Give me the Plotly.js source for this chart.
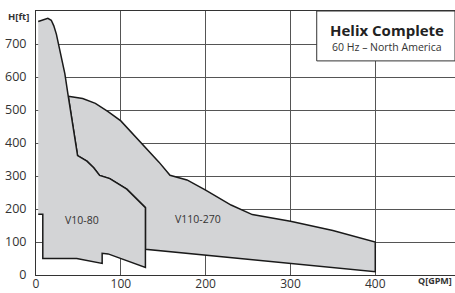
<!DOCTYPE html>
<html><head><meta charset="utf-8">
<script src="https://cdn.plot.ly/plotly-3.0.1.min.js"></script>
<style>html,body{margin:0;padding:0;background:#fff}#chart{width:455px;height:293px}</style>
</head><body><div id="chart"></div>
<script>
// V10-80 envelope (flow Q in GPM, head H in ft)
const v10Q = [2.6, 14, 18, 21, 24, 27, 31, 34, 38, 44, 49, 60, 68, 75, 87, 107, 129, 129, 85, 78, 78, 48, 8, 8, 2.6];
const v10H = [768, 778, 772, 755, 730, 695, 648, 610, 542, 450, 362, 345, 325, 302, 292, 260, 204, 23, 64, 66, 35, 50, 50, 184, 184];
// V110-270 envelope
const v110Q = [38, 55, 70, 85, 100, 115, 130, 145, 158, 178, 200, 230, 255, 300, 350, 400, 400, 129, 129, 107, 87, 75, 68, 60, 49, 44, 38];
const v110H = [542, 535, 520, 495, 467, 425, 385, 342, 302, 288, 257, 212, 183, 163, 135, 100, 10, 78, 204, 260, 292, 302, 325, 345, 362, 450, 542];
const seriesNames = ["V10-80", "V110-270"];
const labelQ = [54, 191];
const labelH = [168, 169];
const xTicks = [0, 100, 200, 300, 400];
const yTicks = [0, 100, 200, 300, 400, 500, 600, 700];

const fillC = '#d3d4d6', lineC = '#1a1a1a';
const traces = [
  {x: v110Q, y: v110H, name: seriesNames[1], type: 'scatter', mode: 'lines', fill: 'toself', fillcolor: fillC, line: {color: lineC, width: 1.5}, hoverinfo: 'skip'},
  {x: v10Q, y: v10H, name: seriesNames[0], type: 'scatter', mode: 'lines', fill: 'toself', fillcolor: fillC, line: {color: lineC, width: 1.5}, hoverinfo: 'skip'}
];
const font = {family: 'Open Sans, sans-serif', color: '#333'};
const layout = {
  width: 455, height: 293,
  margin: {l: 36, r: 0, t: 11, b: 18, pad: 0},
  paper_bgcolor: '#fff', plot_bgcolor: '#fff',
  showlegend: false,
  font: font,
  xaxis: {range: [0, 494], tickvals: xTicks, ticktext: xTicks.map(String), showgrid: true, gridcolor: '#555', gridwidth: 1,
    zeroline: false, showline: true, linecolor: '#333', linewidth: 1, mirror: true, ticks: '', ticklen: 0, ticklabelstandoff: -2, tickfont: {size: 12, color: '#333'}, fixedrange: true},
  yaxis: {range: [0, 800], tickvals: yTicks, ticktext: yTicks.map(String), showgrid: true, gridcolor: '#555', gridwidth: 1,
    zeroline: false, showline: true, linecolor: '#333', linewidth: 1, ticks: '', ticklen: 0, tickfont: {size: 12.5, color: '#333'}, ticklabelstandoff: 6, fixedrange: true},
  shapes: [
    {type: 'rect', xref: 'paper', yref: 'paper', x0: 0.67, x1: 1.0, y0: 0.811, y1: 1.0, fillcolor: '#ffffff', opacity: 1, line: {color: '#333', width: 1}, layer: 'above'}
  ],
  annotations: [
    {xref: 'x', yref: 'y', x: labelQ[0], y: labelH[0], text: seriesNames[0], showarrow: false, xanchor: 'center', yanchor: 'middle', font: {size: 10.5, color: '#333'}},
    {xref: 'x', yref: 'y', x: labelQ[1], y: labelH[1], text: seriesNames[1], showarrow: false, xanchor: 'center', yanchor: 'middle', font: {size: 10.5, color: '#333'}},
    {xref: 'paper', yref: 'paper', x: 0.838, y: 0.928, text: '<b>Helix Complete</b>', showarrow: false, xanchor: 'center', yanchor: 'middle', font: {size: 15, color: '#222'}},
    {xref: 'paper', yref: 'paper', x: 0.838, y: 0.862, text: '60 Hz – North America', showarrow: false, xanchor: 'center', yanchor: 'middle', font: {size: 10.5, color: '#333'}},
    {xref: 'paper', yref: 'paper', x: -0.041, y: 0.979, text: '<b>H[ft]</b>', showarrow: false, xanchor: 'center', yanchor: 'middle', font: {size: 9.5, color: '#333'}},
    {xref: 'paper', yref: 'paper', x: 0.997, y: -0.022, text: '<b>Q[GPM]</b>', showarrow: false, xanchor: 'right', yanchor: 'middle', font: {size: 9, color: '#333'}}
  ]
};
Plotly.newPlot('chart', traces, layout, {staticPlot: true, displayModeBar: false});
</script></body></html>
